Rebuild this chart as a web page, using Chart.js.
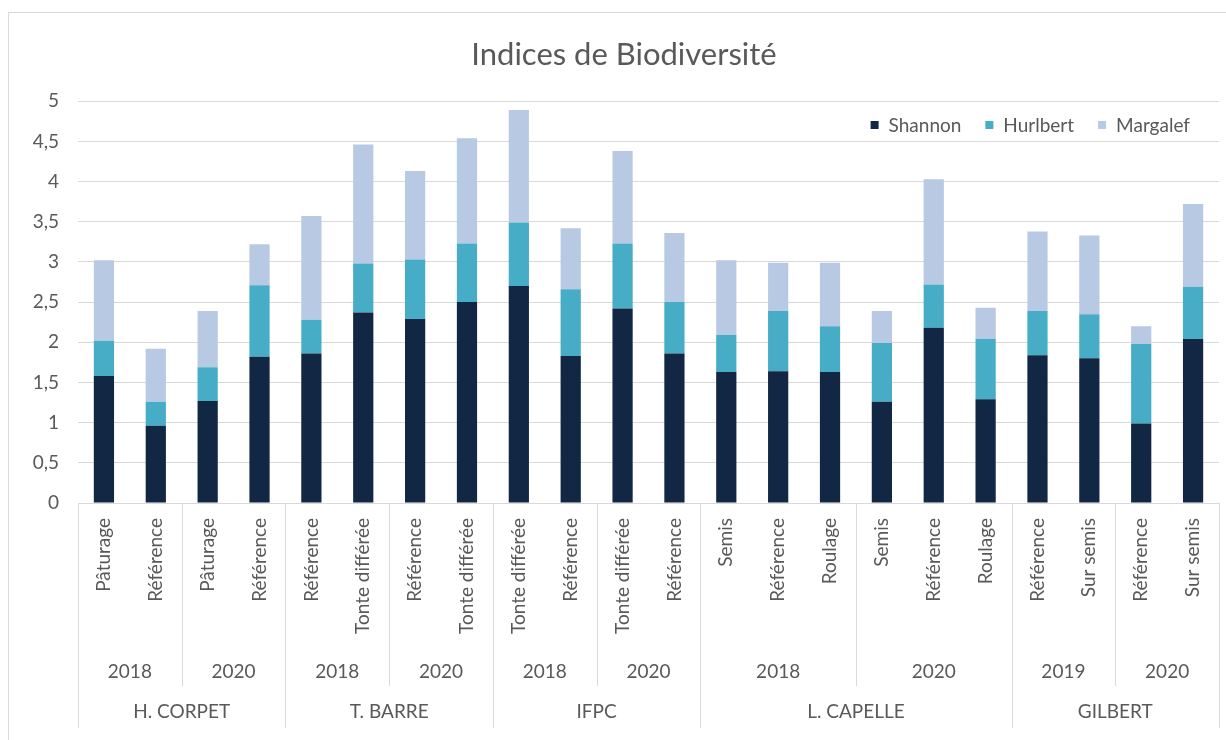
<!DOCTYPE html>
<html><head><meta charset="utf-8">
<script src="https://cdn.jsdelivr.net/npm/chart.js@4.4.0/dist/chart.umd.min.js"></script>
<style>html,body{margin:0;padding:0;background:#fff;}</style>
</head><body>
<canvas id="c" width="1226" height="740"></canvas>
<script>
const categories = ['Pâturage','Référence','Pâturage','Référence','Référence','Tonte différée','Référence','Tonte différée','Tonte différée','Référence','Tonte différée','Référence','Semis','Référence','Roulage','Semis','Référence','Roulage','Référence','Sur semis','Référence','Sur semis'];
const yearLabels = ['2018','2020','2018','2020','2018','2020','2018','2020','2019','2020'];
const yearSpans  = [2,2,2,2,2,2,3,3,2,2];
const siteLabels = ['H. CORPET','T. BARRE','IFPC','L. CAPELLE','GILBERT'];
const siteSpans  = [4,4,4,6,4];
const shannon  = [1.58,0.96,1.27,1.82,1.86,2.37,2.29,2.50,2.70,1.83,2.42,1.86,1.63,1.64,1.63,1.26,2.18,1.29,1.84,1.80,0.99,2.04];
const hurlbert = [0.44,0.30,0.42,0.89,0.42,0.61,0.74,0.73,0.79,0.83,0.81,0.64,0.46,0.75,0.57,0.73,0.54,0.75,0.55,0.55,0.99,0.65];
const margalef = [1.00,0.66,0.70,0.51,1.29,1.48,1.10,1.31,1.40,0.76,1.15,0.86,0.93,0.60,0.79,0.40,1.31,0.39,0.99,0.98,0.22,1.03];
const seriesNames = ['Shannon','Hurlbert','Margalef'];
const yMin = 0, yMax = 5, yStep = 0.5;
const titleText = 'Indices de Biodiversité';

const TXT = '#595959', GRID = '#d9d9d9', FONT = 'Lato';
Chart.defaults.font.family = FONT;
Chart.defaults.color = TXT;

const frame = {
  id: 'frame',
  beforeDraw(chart) {
    const ctx = chart.ctx;
    ctx.save();
    ctx.fillStyle = '#fff';
    ctx.fillRect(0, 0, chart.width, chart.height);
    ctx.strokeStyle = GRID; ctx.lineWidth = 1;
    ctx.beginPath();
    ctx.moveTo(8.5, chart.height + 5); ctx.lineTo(8.5, 12.5); ctx.lineTo(chart.width + 5, 12.5);
    ctx.stroke();
    ctx.restore();
  }
};

const groups = {
  id: 'groups',
  afterDraw(chart) {
    const ctx = chart.ctx, x = chart.scales.x, area = chart.chartArea;
    const w = x.getPixelForValue(1) - x.getPixelForValue(0);
    const edge = i => Math.round(x.getPixelForValue(i) - w / 2) + 0.5;
    const bounds = spans => { const b = [0]; let s = 0; spans.forEach(v => { s += v; b.push(s); }); return b; };
    const yb = bounds(yearSpans), sb = bounds(siteSpans);
    ctx.save();
    ctx.strokeStyle = GRID; ctx.lineWidth = 1;
    ctx.beginPath();
    yb.forEach(b => { if (!sb.includes(b)) { ctx.moveTo(edge(b), area.bottom); ctx.lineTo(edge(b), 686); } });
    sb.forEach(b => { ctx.moveTo(edge(b), area.bottom); ctx.lineTo(edge(b), 728); });
    ctx.stroke();
    ctx.fillStyle = TXT; ctx.font = '19px ' + FONT;
    ctx.textAlign = 'center'; ctx.textBaseline = 'middle';
    const mid = (a, b) => (x.getPixelForValue(a) + x.getPixelForValue(b - 1)) / 2;
    yearLabels.forEach((t, i) => ctx.fillText(t, mid(yb[i], yb[i + 1]), 672));
    siteLabels.forEach((t, i) => ctx.fillText(t, mid(sb[i], sb[i + 1]), 712));
    ctx.restore();
  }
};

const legendBox = {
  id: 'legendBox',
  afterDraw(chart) {
    const ctx = chart.ctx;
    ctx.save();
    ctx.font = '19px ' + FONT;
    ctx.textBaseline = 'middle'; ctx.textAlign = 'left';
    const box = 8, gapText = 10, gapItem = 24, yc = 125, rightEnd = 1190;
    const ds = chart.data.datasets;
    const widths = ds.map(d => box + gapText + ctx.measureText(d.label).width);
    let total = widths.reduce((a, b) => a + b, 0) + gapItem * (ds.length - 1);
    let cx = rightEnd - total;
    ds.forEach((d, i) => {
      ctx.fillStyle = d.backgroundColor;
      ctx.fillRect(cx, yc - box / 2, box, box);
      ctx.fillStyle = TXT;
      ctx.fillText(d.label, cx + box + gapText, yc + 1);
      cx += widths[i] + gapItem;
    });
    ctx.restore();
  }
};

new Chart(document.getElementById('c'), {
  type: 'bar',
  data: {
    labels: categories,
    datasets: [
      { label: seriesNames[0], data: shannon,  backgroundColor: '#112744' },
      { label: seriesNames[1], data: hurlbert, backgroundColor: '#47adc7' },
      { label: seriesNames[2], data: margalef, backgroundColor: '#b8cae3' }
    ]
  },
  options: {
    responsive: false,
    animation: false,
    devicePixelRatio: 1,
    layout: { padding: { left: 29, right: 7, top: 13, bottom: 0 } },
    datasets: { bar: { categoryPercentage: 1, barPercentage: 0.39 } },
    plugins: {
      legend: { display: false },
      tooltip: { enabled: false },
      title: {
        display: true, text: titleText, color: TXT,
        font: { size: 31, weight: 'normal', family: FONT },
        padding: { top: 23, bottom: 28 }
      }
    },
    scales: {
      x: {
        stacked: true,
        grid: { display: false, drawTicks: false },
        border: { display: false },
        ticks: { autoSkip: false, minRotation: 90, maxRotation: 90, padding: 15, color: TXT, font: { size: 19 } },
        afterFit(s) { s.height = 237; s.paddingLeft = 0; s.paddingRight = 0; }
      },
      y: {
        stacked: true, min: yMin, max: yMax,
        grid: { color: GRID, drawTicks: false },
        border: { display: false },
        ticks: { stepSize: yStep, padding: 19, color: TXT, font: { size: 19 },
          callback: v => String(v).replace('.', ',') },
        afterFit(s) { s.width = 49; }
      }
    }
  },
  plugins: [frame, groups, legendBox]
});
</script>
</body></html>
